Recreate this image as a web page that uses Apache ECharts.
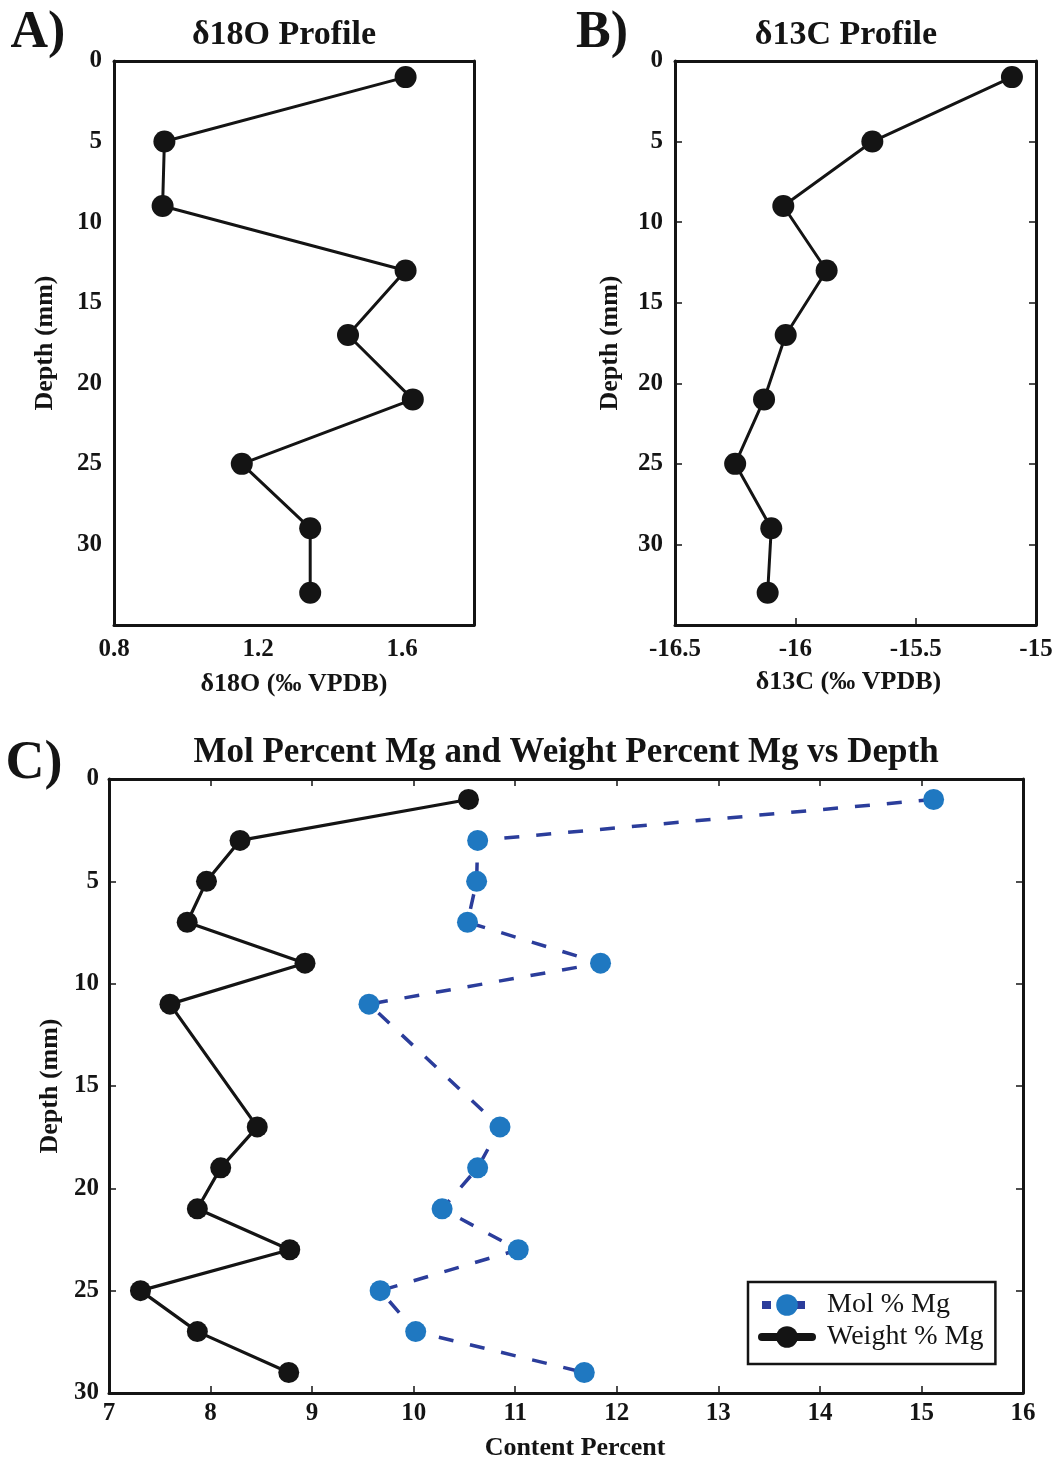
<!DOCTYPE html>
<html>
<head>
<meta charset="utf-8">
<script src="https://cdn.jsdelivr.net/npm/echarts@6/dist/echarts.min.js"></script>
<style>
html,body{margin:0;padding:0;background:#fff;}
#chart{width:1057px;height:1465px;}
</style>
</head>
<body>
<div id="chart"></div>
<script>
// ---- Data ----
const depthsAB = [1, 5, 9, 13, 17, 21, 25, 29, 33];
const d18O = [1.61, 0.94, 0.935, 1.61, 1.45, 1.63, 1.155, 1.345, 1.345];
const d13C = [-15.10, -15.68, -16.05, -15.87, -16.04, -16.13, -16.25, -16.10, -16.115];

const depthsC = [1, 3, 5, 7, 9, 11, 17, 19, 21, 23, 25, 27, 29];
const molPctMg = [15.12, 10.63, 10.62, 10.53, 11.84, 9.56, 10.85, 10.63, 10.28, 11.03, 9.67, 10.02, 11.68];
const wtPctMg = [10.54, 8.29, 7.96, 7.77, 8.93, 7.60, 8.46, 8.10, 7.87, 8.78, 7.31, 7.87, 8.77];

const ticksA = [0.8, 1.2, 1.6];
const ticksB = [-16.5, -16, -15.5, -15];
const ticksC = [7, 8, 9, 10, 11, 12, 13, 14, 15, 16];

// ---- Helpers ----
const SERIF = '"Liberation Serif", "DejaVu Serif", serif';
const INK = '#141414';
function pairs(xs, ys) { return xs.map((x, i) => [x, ys[i]]); }
const fmt = v => String(Math.round(v * 1000) / 1000);

const labelStyle = { fontFamily: SERIF, fontWeight: 'bold', fontSize: 25, color: INK, formatter: fmt };
function nameStyle(pad) { return { fontFamily: SERIF, fontWeight: 'bold', fontSize: 26, color: INK, padding: pad }; }

function mainX(grid, min, max, interval, name, gap, showMax, margin, pad) {
  return {
    type: 'value', gridIndex: grid, min, max, interval, position: 'bottom',
    name, nameLocation: 'middle', nameGap: gap, nameTextStyle: nameStyle(pad),
    axisLine: { onZero: false, lineStyle: { color: INK, width: 3 } },
    axisTick: { show: grid !== 0, inside: true, length: 7, lineStyle: { color: INK, width: 1.5 } },
    axisLabel: Object.assign({ margin: margin, showMaxLabel: showMax, showMinLabel: true }, labelStyle),
    splitLine: { show: false }
  };
}
function topX(grid, min, max, interval) {
  return {
    type: 'value', gridIndex: grid, min, max, interval, position: 'top',
    axisLine: { onZero: false, lineStyle: { color: INK, width: 3 } },
    axisTick: { show: grid === 2, inside: true, length: 7, lineStyle: { color: INK, width: 1.5 } },
    axisLabel: { show: false }, splitLine: { show: false }
  };
}
function mainY(grid, max, name, gap, showMax, margin) {
  return {
    type: 'value', gridIndex: grid, min: 0, max, interval: 5, inverse: true, position: 'left',
    name, nameLocation: 'middle', nameGap: gap, nameTextStyle: nameStyle(0),
    axisLine: { onZero: false, lineStyle: { color: INK, width: 3 } },
    axisTick: { show: grid !== 0, inside: true, length: 7, lineStyle: { color: INK, width: 1.5 } },
    axisLabel: Object.assign({ margin: margin, showMaxLabel: showMax }, labelStyle),
    splitLine: { show: false }
  };
}
function rightY(grid, max) {
  return {
    type: 'value', gridIndex: grid, min: 0, max, interval: 5, inverse: true, position: 'right',
    axisLine: { onZero: false, lineStyle: { color: INK, width: 3 } },
    axisTick: { show: grid !== 0, inside: true, length: 7, lineStyle: { color: INK, width: 1.5 } },
    axisLabel: { show: false }, splitLine: { show: false }
  };
}

const chart = echarts.init(document.getElementById('chart'), null, { renderer: 'canvas' });

const option = {
  backgroundColor: '#ffffff',
  animation: false,
  textStyle: { fontFamily: SERIF },
  grid: [
    { left: 114, top: 61, width: 360, height: 564 },
    { left: 675, top: 61, width: 361, height: 564 },
    { left: 109, top: 779, width: 914, height: 614 }
  ],
  xAxis: [
    mainX(0, ticksA[0], 1.8, ticksA[1] - ticksA[0], 'δ18O (‰ VPDB)', 46, false, 12, 0),
    mainX(1, ticksB[0], ticksB[ticksB.length - 1], ticksB[1] - ticksB[0], 'δ13C (‰ VPDB)', 44, true, 12, [0, 14, 0, 0]),
    mainX(2, ticksC[0], ticksC[ticksC.length - 1], ticksC[1] - ticksC[0], 'Content Percent', 42, true, 8, [0, 0, 0, 18]),
    topX(0, ticksA[0], 1.8, ticksA[1] - ticksA[0]),
    topX(1, ticksB[0], ticksB[ticksB.length - 1], ticksB[1] - ticksB[0]),
    topX(2, ticksC[0], ticksC[ticksC.length - 1], ticksC[1] - ticksC[0])
  ],
  yAxis: [
    mainY(0, 35, 'Depth (mm)', 56, false, 12),
    mainY(1, 35, 'Depth (mm)', 52, false, 12),
    mainY(2, 30, 'Depth (mm)', 46, true, 10),
    rightY(0, 35),
    rightY(1, 35),
    rightY(2, 30)
  ],
  legend: {
    data: [
      { name: 'Mol % Mg', lineStyle: { width: 8, type: [9, 8], cap: 'butt' } },
      { name: 'Weight % Mg', lineStyle: { width: 8, cap: 'round' } }
    ],
    orient: 'vertical',
    left: 748, top: 1282,
    borderColor: INK, borderWidth: 2.5, borderRadius: 0,
    padding: [9, 12, 13, 10],
    itemWidth: 50, itemHeight: 27, itemGap: 4,
    textStyle: { fontFamily: SERIF, fontSize: 28, color: INK, padding: [0, 0, 0, 10] }
  },
  series: [
    {
      name: 'δ18O', type: 'line', xAxisIndex: 0, yAxisIndex: 0,
      data: pairs(d18O, depthsAB),
      symbol: 'circle', symbolSize: 22,
      itemStyle: { color: INK },
      lineStyle: { color: INK, width: 3 }
    },
    {
      name: 'δ13C', type: 'line', xAxisIndex: 1, yAxisIndex: 1,
      data: pairs(d13C, depthsAB),
      symbol: 'circle', symbolSize: 22,
      itemStyle: { color: INK },
      lineStyle: { color: INK, width: 3 }
    },
    {
      name: 'Mol % Mg', type: 'line', xAxisIndex: 2, yAxisIndex: 2,
      data: pairs(molPctMg, depthsC),
      symbol: 'circle', symbolSize: 21,
      itemStyle: { color: '#1f78c1' },
      lineStyle: { color: '#2b3d9b', width: 3.5, type: [15, 17] }
    },
    {
      name: 'Weight % Mg', type: 'line', xAxisIndex: 2, yAxisIndex: 2,
      data: pairs(wtPctMg, depthsC),
      symbol: 'circle', symbolSize: 21,
      itemStyle: { color: INK },
      lineStyle: { color: INK, width: 3.2 }
    }
  ],
  graphic: [
    { type: 'text', x: 38, y: 34, style: { text: 'A)', font: 'bold 52px ' + SERIF, fill: INK, align: 'center', verticalAlign: 'middle' } },
    { type: 'text', x: 284, y: 35, style: { text: 'δ18O Profile', font: 'bold 34px ' + SERIF, fill: INK, align: 'center', verticalAlign: 'middle' } },
    { type: 'text', x: 602, y: 34, style: { text: 'B)', font: 'bold 52px ' + SERIF, fill: INK, align: 'center', verticalAlign: 'middle' } },
    { type: 'text', x: 846, y: 35, style: { text: 'δ13C Profile', font: 'bold 34px ' + SERIF, fill: INK, align: 'center', verticalAlign: 'middle' } },
    { type: 'text', x: 34, y: 764, style: { text: 'C)', font: 'bold 54px ' + SERIF, fill: INK, align: 'center', verticalAlign: 'middle' } },
    { type: 'text', x: 566, y: 753, style: { text: 'Mol Percent Mg and Weight Percent Mg vs Depth', font: 'bold 35px ' + SERIF, fill: INK, align: 'center', verticalAlign: 'middle' } }
  ]
};

chart.setOption(option);
</script>
</body>
</html>
